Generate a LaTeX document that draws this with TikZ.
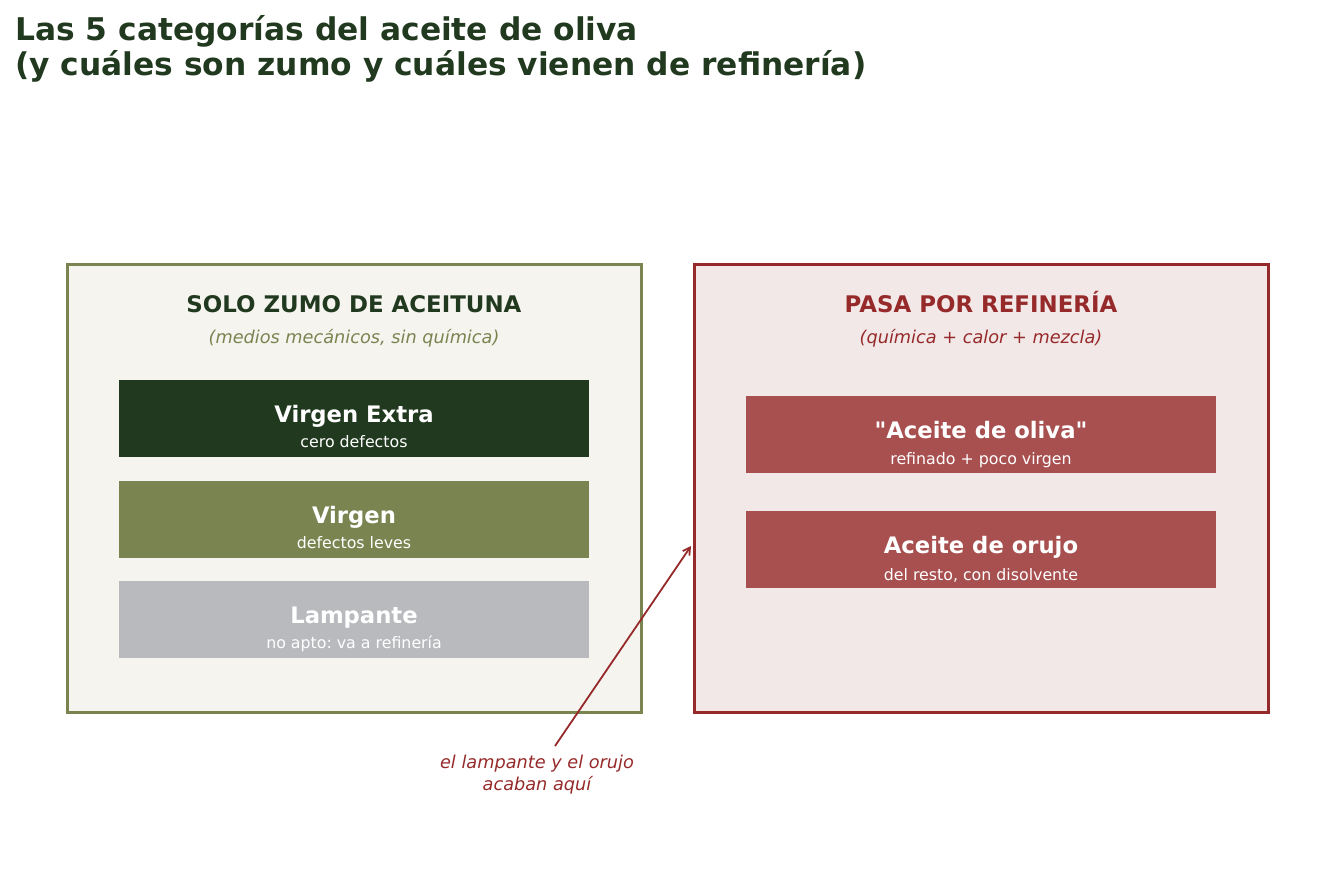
\documentclass[tikz,border=0pt]{standalone}
\usepackage{fontspec}
\setmainfont{DejaVu Sans}
\usetikzlibrary{arrows.meta}
\definecolor{zumogreen}{HTML}{213A1F}
\definecolor{zumoolive}{HTML}{7A8450}
\definecolor{zumofill}{HTML}{F5F4EF}
\definecolor{refred}{HTML}{962A2A}
\definecolor{reffill}{HTML}{F2E8E7}
\definecolor{refbox}{HTML}{A84F4F}
\definecolor{lampgray}{HTML}{B8BABE}
\def\fsz#1{\fontsize{#1}{#1}\selectfont}
\frenchspacing
\tikzset{
	panel/.style={line width=3pt, minimum width=574pt, minimum height=448pt, inner sep=0pt},
	catbox/.style={minimum width=470pt, minimum height=77pt, inner sep=0pt},
	lbl/.style={anchor=base, inner sep=0pt},
	cattitle/.style={lbl, text=white, font=\fsz{22.7}\bfseries},
	catsub/.style={lbl, text=white, font=\fsz{15.8}},
}

\begin{document}
\begin{tikzpicture}[x=1pt, y=-1pt]
	%%%%% START %%%%%
	\useasboundingbox (0, 0) rectangle (1335, 881);
	
	\node[lbl, anchor=base west, text=zumogreen, font=\fsz{31.3}\bfseries] (title1) at (15, 40) {Las 5 categorías del aceite de oliva};
	\node[lbl, anchor=base west, text=zumogreen, font=\fsz{31.3}\bfseries] (title2) at (15, 75) {(y cuáles son zumo y cuáles vienen de refinería)};
	
	% left panel
	\node[panel, draw=zumoolive, fill=zumofill] (zumo) at (354, 488) {};
	\node[lbl, text=zumogreen, font=\fsz{22.9}\bfseries] (zumohead) at (354, 312) {SOLO ZUMO DE ACEITUNA};
	\node[lbl, text=zumoolive, font=\fsz{17.7}\itshape] (zumosub) at (354, 343) {(medios mecánicos, sin química)};
	
	\node[catbox, fill=zumogreen] (vextra) at (354, 418.5) {};
	\node[cattitle] (vextraname) at (354, 422) {Virgen Extra};
	\node[catsub] (vextranote) at (354, 447) {cero defectos};
	
	\node[catbox, fill=zumoolive] (virgen) at (354, 519) {};
	\node[cattitle] (virgenname) at (354, 523) {Virgen};
	\node[catsub] (virgennote) at (354, 548) {defectos leves};
	
	\node[catbox, fill=lampgray] (lamp) at (354, 619.5) {};
	\node[cattitle] (lampname) at (354, 623) {Lampante};
	\node[catsub] (lampnote) at (354, 648) {no apto: va a refinería};
	
	% right panel
	\node[panel, draw=refred, fill=reffill] (refin) at (981, 488) {};
	\node[lbl, text=refred, font=\fsz{22.9}\bfseries] (refinhead) at (981, 312) {PASA POR REFINERÍA};
	\node[lbl, text=refred, font=\fsz{17.7}\itshape] (refinsub) at (981, 343) {(química + calor + mezcla)};
	
	\node[catbox, fill=refbox] (aoliva) at (981, 434.5) {};
	\node[cattitle] (aolivaname) at (981, 438) {\textquotedbl Aceite de oliva\textquotedbl};
	\node[catsub] (aolivanote) at (981, 464) {refinado + poco virgen};
	
	\node[catbox, fill=refbox] (orujo) at (981, 549.5) {};
	\node[cattitle] (orujoname) at (981, 553) {Aceite de orujo};
	\node[catsub] (orujonote) at (981, 580) {del resto, con disolvente};
	
	% note and arrow
	\node[lbl, text=refred, font=\fsz{17.7}\itshape] (note1) at (537, 768) {el lampante y el orujo};
	\node[lbl, text=refred, font=\fsz{17.7}\itshape] (note2) at (537, 790) {acaban aquí};
	\coordinate (notefoot) at (555, 746);
	\coordinate (notetip) at (691, 546);
	\draw[refred, line width=1.8pt, -{Straight Barb[length=7pt, width=8pt]}] (notefoot) -- (notetip);
	
	%%%%% END %%%%%
\end{tikzpicture}
\end{document}
